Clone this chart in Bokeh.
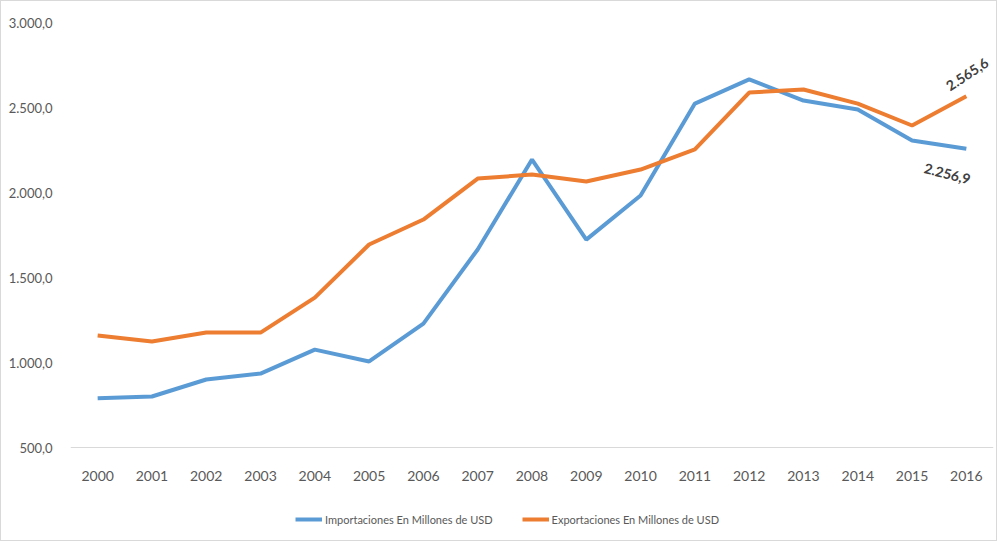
from bokeh.plotting import figure
from bokeh.models import ColumnDataSource, FixedTicker, Legend, LegendItem
from bokeh.core.properties import value
from bokeh.embed import file_html
from bokeh.resources import INLINE

years = list(range(2000, 2017))
importaciones = [790, 800, 900, 935, 1076, 1006, 1229, 1665, 2194, 1723, 1982,
                 2523, 2665, 2541, 2488, 2306, 2256.9]
exportaciones = [1159, 1123, 1176, 1176, 1382, 1694, 1841, 2082, 2106, 2065, 2135,
                 2253, 2588, 2606, 2523, 2394, 2565.6]
y_ticks = [500, 1000, 1500, 2000, 2500, 3000]
y_tick_labels = ["500,0", "1.000,0", "1.500,0", "2.000,0", "2.500,0", "3.000,0"]
series_names = ["Importaciones En Millones de USD", "Exportaciones En Millones de USD"]
end_labels = ["2.256,9", "2.565,6"]

FONT = "Lato"
GREY = "#595959"

# frame spans from the 3000 line down to the bottom of the chart; 425 px per 2500 units
frame_h = 520
y_start = 3000 - frame_h * 2500 / 425

p = figure(width=997, height=541, x_range=(1999.5, 2016.5), y_range=(y_start, 3000),
           output_backend="svg", toolbar_location=None,
           min_border_left=69, min_border_right=5, min_border_top=21, min_border_bottom=0)
p.styles = {"border": "1px solid #d9d9d9"}
p.outline_line_color = None
p.xgrid.grid_line_color = None
p.ygrid.grid_line_color = None

src = ColumnDataSource(dict(x=years, imp=importaciones, exp=exportaciones))
r1 = p.line("x", "imp", source=src, line_color="#5B9BD5", line_width=4)
r2 = p.line("x", "exp", source=src, line_color="#ED7D31", line_width=4)

# end labels
p.text(x=[years[-1]], y=[importaciones[-1]], text=[end_labels[0]], angle=-0.25,
       x_offset=-19, y_offset=25, text_align="center", text_baseline="middle",
       text_font=value(FONT), text_font_size="14px", text_color="#404040",
       text_font_style="bold")
p.text(x=[years[-1]], y=[exportaciones[-1]], text=[end_labels[1]], angle=0.58,
       x_offset=1, y_offset=-22, text_align="center", text_baseline="middle",
       text_font=value(FONT), text_font_size="14px", text_color="#404040",
       text_font_style="bold")

p.xaxis.fixed_location = 500
p.xaxis.ticker = FixedTicker(ticks=years)
p.xaxis.axis_line_color = "#d9d9d9"
p.xaxis.major_tick_line_color = None
p.xaxis.minor_tick_line_color = None
p.xaxis.major_label_text_font = FONT
p.xaxis.major_label_text_font_size = "14px"
p.xaxis.major_label_text_color = GREY
p.xaxis.major_label_standoff = 17

p.yaxis.ticker = FixedTicker(ticks=y_ticks)
p.yaxis.major_label_overrides = {t: l for t, l in zip(y_ticks, y_tick_labels)}
p.yaxis.axis_line_color = None
p.yaxis.major_tick_line_color = None
p.yaxis.minor_tick_line_color = None
p.yaxis.major_label_text_font = FONT
p.yaxis.major_label_text_font_size = "13px"
p.yaxis.major_label_text_color = GREY
p.yaxis.major_label_standoff = 12

legend = Legend(items=[LegendItem(label=series_names[0], renderers=[r1]),
                       LegendItem(label=series_names[1], renderers=[r2])],
                orientation="horizontal", location=(225, 13),
                label_text_font=FONT, label_text_font_size="11px",
                label_text_color=GREY, glyph_width=27, label_standoff=3,
                spacing=29, border_line_color=None, background_fill_alpha=0,
                padding=4, margin=0)
p.add_layout(legend)

open("out.html", "w").write(file_html(p, INLINE))
